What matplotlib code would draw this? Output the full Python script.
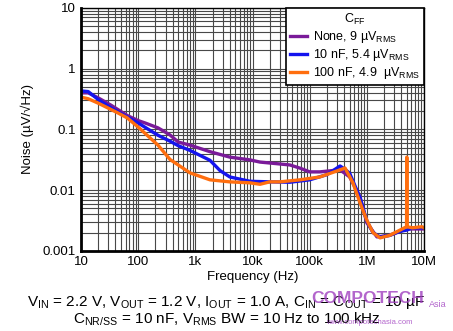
import numpy as np
import matplotlib
matplotlib.use('Agg')
import matplotlib.pyplot as plt
from matplotlib.ticker import FixedLocator, LogLocator, NullFormatter

#==============================================================================
# Data (frequency in Hz, noise in uV/sqrt(Hz))
#==============================================================================
freqNone = [10, 13.3, 20, 33.5, 64, 99, 131, 222, 360, 500, 810, 1800, 4000,
            9000, 13500, 20000, 45000, 68000, 100000, 150000, 250000, 340000,
            500000, 760000, 1.0e6, 1.5e6, 2.5e6, 3.8e6, 5.0e6, 6.2e6, 1.0e7]
noiseNone = [0.40, 0.40, 0.33, 0.25, 0.17, 0.14, 0.128, 0.106, 0.081, 0.062,
             0.055, 0.043, 0.035, 0.0315, 0.029, 0.028, 0.026, 0.023, 0.020,
             0.020, 0.021, 0.0216, 0.0165, 0.0077, 0.0029, 0.0017, 0.0018,
             0.0021, 0.0023, 0.0023, 0.0023]

freq10n = [10, 13.3, 20, 33.5, 64, 99, 222, 360, 500, 810, 1800, 2700, 4000,
           9000, 20000, 45000, 100000, 200000, 340000, 415000, 500000, 760000,
           1.0e6, 1.28e6, 1.7e6, 2.5e6, 3.8e6, 5.0e6, 6.2e6, 1.0e7]
noise10n = [0.43, 0.42, 0.31, 0.226, 0.16, 0.128, 0.080, 0.064, 0.054, 0.045,
            0.031, 0.021, 0.0165, 0.0140, 0.0137, 0.0135, 0.0148, 0.018,
            0.025, 0.022, 0.019, 0.0075, 0.0031, 0.0020, 0.0017, 0.0018,
            0.0021, 0.0022, 0.0024, 0.0024]

freq100n = [10, 13.3, 20, 44, 64, 99, 222, 360, 500, 810, 1800, 4000, 9000,
            13500, 20000, 30000, 68000, 150000, 340000, 415000, 570000,
            760000, 1.0e6, 1.28e6, 1.7e6, 2.5e6, 3.8e6, 4.95e6, 5.0e6, 5.05e6,
            6.2e6, 9.2e6, 1.0e7]
noise100n = [0.34, 0.32, 0.27, 0.187, 0.155, 0.110, 0.055, 0.032, 0.026,
             0.0192, 0.0148, 0.0137, 0.0132, 0.0125, 0.0137, 0.0137, 0.0148,
             0.0165, 0.0216, 0.0232, 0.0132, 0.0062, 0.0032, 0.0020, 0.00164,
             0.0018, 0.0022, 0.0025, 0.035, 0.0025, 0.0024, 0.0025, 0.0024]

xTicks = [10, 100, 1e3, 1e4, 1e5, 1e6, 1e7]
xTickLabels = ['10', '100', '1k', '10k', '100k', '1M', '10M']
yTicks = [0.001, 0.01, 0.1, 1, 10]
yTickLabels = ['0.001', '0.01', '0.1', '1', '10']

#==============================================================================
# Plot
#==============================================================================
plt.rcParams['font.family'] = ['Liberation Sans', 'DejaVu Sans']
plt.rcParams['mathtext.fontset'] = 'custom'
plt.rcParams['mathtext.rm'] = 'Liberation Sans'
plt.rcParams['mathtext.it'] = 'Liberation Sans'

fig = plt.figure(figsize = (4.53, 3.31), dpi = 100)
ax = fig.add_axes([0.179, 0.242, 0.757, 0.734])

ax.plot(freqNone, noiseNone, color = '#7a1a99', linewidth = 2.4,
        label = 'None, 9 \u00b5V$_\\mathregular{RMS}$')
ax.plot(freq10n, noise10n, color = '#1414ee', linewidth = 2.4,
        label = '10 nF, 5.4 \u00b5V$_\\mathregular{RMS}$')
ax.plot(freq100n, noise100n, color = '#ff6e0e', linewidth = 2.4,
        label = '100 nF, 4.9  \u00b5V$_\\mathregular{RMS}$')

ax.set_xscale('log')
ax.set_yscale('log')
ax.set_xlim(10, 1e7)
ax.set_ylim(0.001, 10)
ax.xaxis.set_major_locator(FixedLocator(xTicks))
ax.set_xticklabels(xTickLabels)
ax.yaxis.set_major_locator(FixedLocator(yTicks))
ax.set_yticklabels(yTickLabels)
ax.xaxis.set_minor_locator(LogLocator(base = 10, subs = np.arange(2, 10)))
ax.yaxis.set_minor_locator(LogLocator(base = 10, subs = np.arange(2, 10)))
ax.xaxis.set_minor_formatter(NullFormatter())
ax.yaxis.set_minor_formatter(NullFormatter())
ax.tick_params(which = 'both', length = 0, labelsize = 9.5, pad = 4)
ax.grid(which = 'both', color = '#484848', linewidth = 0.8)
ax.set_axisbelow(True)

for side in ['left', 'bottom']:
    ax.spines[side].set_linewidth(2.0)
for side in ['top', 'right']:
    ax.spines[side].set_linewidth(1.0)

ax.set_xlabel('Frequency (Hz)', fontsize = 9.5, labelpad = 2)
ax.set_ylabel('Noise (\u00b5V/\u221aHz)', fontsize = 9.5, labelpad = 6)

leg = ax.legend(loc = 'upper right', bbox_to_anchor = (1.0, 1.0),
                borderaxespad = 0, title = 'C$_\\mathregular{FF}$',
                fontsize = 9, title_fontsize = 9, handlelength = 1.3,
                handletextpad = 0.5, labelspacing = 0.15, borderpad = 0.35,
                fancybox = False, framealpha = 1, edgecolor = 'black')
leg.get_frame().set_linewidth(1.2)

# caption below the chart
fig.text(0.5, 0.085, 'V$_\\mathregular{IN}$ = 2.2 V, V$_\\mathregular{OUT}$ = 1.2 V, '
         'I$_\\mathregular{OUT}$ = 1.0 A, C$_\\mathregular{IN}$ = C$_\\mathregular{OUT}$ = 10 \u00b5F',
         ha = 'center', va = 'center', fontsize = 11)
fig.text(0.5, 0.035, 'C$_\\mathregular{NR/SS}$ = 10 nF, V$_\\mathregular{RMS}$ BW = 10 Hz to 100 kHz',
         ha = 'center', va = 'center', fontsize = 11)

# watermark
fig.text(0.688, 0.098, 'COMPOTECH', color = '#a040c0', alpha = 0.8, fontsize = 12.5,
         fontweight = 'bold', ha = 'left', va = 'center')
fig.text(0.947, 0.08, 'Asia', color = '#a040c0', alpha = 0.8, fontsize = 6.5,
         ha = 'left', va = 'center')
fig.text(0.72, 0.025, 'www.compotechasia.com', color = '#a040c0', alpha = 0.8,
         fontsize = 5.5, ha = 'left', va = 'center')

fig.savefig('out.png', dpi = 100)
